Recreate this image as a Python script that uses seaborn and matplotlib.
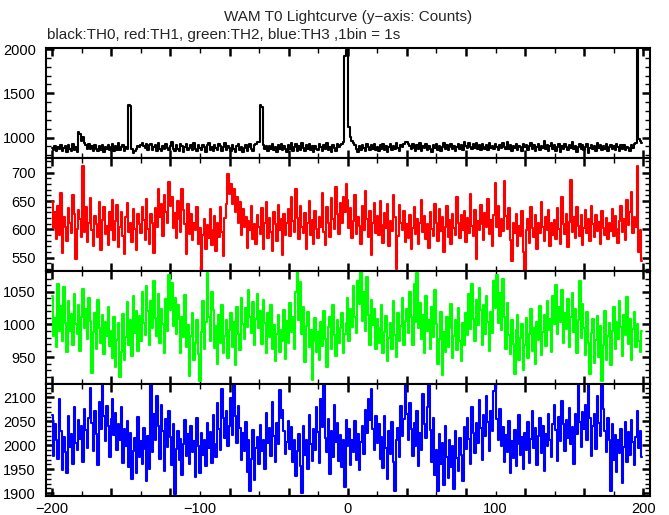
import numpy as np
import matplotlib
matplotlib.use("Agg")
import matplotlib.pyplot as plt
import seaborn as sns
from matplotlib.ticker import MultipleLocator, FuncFormatter

# counts per 1 s bin, t = -200 ... 199
th0 = [
    885, 862, 910, 851, 897, 866, 921, 845, 880, 903, 838, 912, 870, 853, 932, 861, 896, 842, 1062, 1045,
    958, 1002, 940, 915, 872, 928, 868, 909, 850, 921, 876, 848, 905, 862, 918, 840, 897, 869, 913, 855,
    892, 925, 848, 907, 860, 934, 856, 899, 921, 844, 894, 866, 1372, 1355, 870, 832, 851, 866, 905, 890,
    918, 940, 902, 878, 925, 865, 912, 931, 858, 893, 917, 851, 936, 874, 849, 910, 868, 928, 882, 856,
    901, 948, 866, 845, 920, 877, 852, 929, 903, 839, 890, 924, 855, 888, 915, 861, 938, 874, 847, 912,
    880, 858, 921, 893, 842, 916, 935, 864, 889, 848, 918, 884, 855, 927, 904, 846, 892, 939, 861, 905,
    887, 852, 917, 869, 840, 910, 931, 858, 898, 837, 880, 921, 853, 894, 926, 866, 845, 913, 930, 948,
    955, 1372, 1350, 918, 872, 911, 850, 906, 868, 929, 859, 897, 843, 915, 877, 924, 856, 902, 870, 841,
    914, 870, 937, 852, 896, 925, 845, 903, 863, 941, 884, 850, 917, 871, 932, 856, 900, 835, 911, 876,
    855, 927, 889, 846, 915, 872, 938, 860, 897, 840, 921, 880, 853, 930, 893, 912, 925, 950, 1920, 1985,
    2015, 1120, 1010, 962, 935, 912, 870, 842, 905, 861, 918, 880, 847, 924, 890, 855, 913, 872, 933, 858,
    899, 846, 920, 877, 931, 862, 904, 841, 893, 928, 857, 911, 874, 940, 883, 850, 917, 892, 928, 945,
    955, 932, 910, 872, 927, 886, 851, 915, 874, 936, 846, 903, 880, 925, 860, 911, 871, 843, 921, 884,
    932, 864, 906, 848, 893, 940, 875, 914, 857, 897, 926, 870, 908, 844, 889, 931, 873, 915, 859, 946,
    911, 880, 935, 897, 866, 925, 886, 944, 875, 913, 858, 932, 892, 869, 918, 855, 941, 884, 905, 867,
    926, 889, 860, 917, 880, 936, 895, 866, 950, 874, 914, 848, 907, 886, 933, 865, 910, 891, 852, 927,
    890, 918, 858, 905, 938, 872, 913, 846, 892, 929, 864, 908, 880, 958, 869, 917, 851, 900, 934, 872,
    913, 848, 893, 932, 835, 908, 870, 927, 889, 856, 919, 880, 955, 866, 907, 843, 891, 930, 874, 912,
    857, 899, 925, 830, 882, 916, 868, 906, 850, 935, 883, 918, 861, 902, 876, 931, 852, 894, 914, 870,
    905, 858, 927, 889, 848, 914, 875, 920, 856, 899, 884, 851, 917, 880, 928, 935, 2050, 990, 960, 935,
]

th1 = [
    648, 602, 631, 583, 642, 590, 665, 558, 622, 604, 579, 637, 611, 593, 660, 628, 547, 601, 635, 618,
    586, 712, 596, 640, 578, 612, 655, 599, 571, 624, 609, 587, 648, 563, 617, 639, 592, 606, 572, 630,
    598, 652, 581, 615, 643, 568, 604, 631, 589, 557, 622, 646, 595, 612, 578, 636, 601, 564, 628, 609,
    593, 640, 617, 582, 654, 600, 575, 627, 611, 559, 638, 604, 672, 621, 645, 588, 660, 630, 612, 684,
    641, 657, 603, 629, 585, 650, 618, 596, 671, 634, 610, 556, 645, 592, 627, 581, 612, 598, 640, 575,
    602, 527, 590, 618, 566, 608, 585, 636, 572, 599, 624, 561, 611, 587, 640, 596, 553, 620, 645, 698,
    662, 680, 645, 671, 631, 657, 612, 649, 590, 636, 605, 622, 567, 614, 598, 641, 583, 609, 575, 626,
    604, 591, 637, 566, 612, 648, 585, 620, 596, 562, 631, 609, 580, 643, 599, 618, 555, 627, 590, 611,
    636, 588, 657, 614, 596, 672, 620, 583, 641, 605, 593, 629, 566, 612, 650, 590, 617, 575, 633, 601,
    585, 622, 604, 664, 596, 573, 640, 611, 587, 655, 619, 600, 675, 628, 591, 646, 612, 658, 630, 680,
    652, 603, 637, 584, 615, 660, 592, 621, 606, 574, 641, 598, 667, 619, 586, 633, 555, 612, 647, 594,
    623, 590, 650, 608, 576, 629, 602, 645, 571, 614, 597, 660, 621, 530, 588, 643, 612, 599, 632, 578,
    609, 585, 626, 566, 603, 640, 592, 618, 574, 611, 651, 596, 624, 583, 609, 567, 630, 601, 588, 644,
    612, 580, 636, 597, 622, 560, 605, 641, 587, 616, 575, 628, 603, 590, 657, 611, 584, 625, 598, 633,
    577, 620, 594, 663, 606, 589, 634, 548, 615, 599, 643, 610, 582, 629, 604, 653, 591, 617, 571, 626,
    681, 605, 642, 588, 619, 597, 685, 623, 600, 637, 582, 545, 611, 594, 628, 570, 606, 589, 632, 560,
    527, 598, 619, 576, 640, 603, 587, 625, 566, 611, 594, 648, 605, 580, 621, 599, 634, 571, 612, 590,
    616, 583, 638, 601, 575, 657, 609, 592, 627, 568, 613, 688, 596, 621, 584, 640, 606, 589, 625, 572,
    602, 635, 594, 618, 580, 641, 609, 587, 626, 597, 613, 574, 632, 603, 590, 620, 583, 611, 597, 636,
    588, 624, 601, 576, 615, 642, 596, 619, 582, 652, 607, 630, 666, 594, 621, 604, 712, 560, 598, 545,
]

th2 = [
    1043, 982, 1010, 965, 1062, 990, 1028, 975, 1057, 1002, 958, 1035, 990, 1016, 968, 1047, 1001, 985, 1030, 960,
    1012, 1054, 995, 1023, 978, 1040, 1005, 926, 989, 1018, 962, 1037, 994, 971, 1015, 955, 1003, 982, 1026, 967,
    990, 948, 1011, 935, 976, 1002, 920, 958, 1016, 945, 981, 1034, 969, 1006, 952, 1043, 987, 1020, 960, 1013,
    975, 1049, 1002, 984, 1058, 1021, 968, 1035, 995, 1066, 1010, 983, 1047, 972, 1024, 1001, 956, 1039, 990, 1075,
    1022, 1063, 998, 1041, 985, 1030, 1008, 957, 1012, 981, 1045, 966, 999, 921, 983, 1018, 945, 972, 1007, 955,
    913, 988, 1036, 962, 1003, 1078, 1011, 975, 1050, 1022, 964, 998, 940, 1015, 971, 1029, 957, 983, 1006, 948,
    992, 1018, 966, 1004, 938, 1027, 985, 961, 1040, 1001, 978, 1025, 996, 1052, 1011, 987, 1034, 969, 1008, 1046,
    995, 1021, 970, 1038, 1002, 956, 1017, 981, 1030, 963, 999, 944, 986, 1014, 958, 992, 975, 1022, 947, 1005,
    971, 1033, 988, 1012, 962, 1050, 1081, 1007, 1064, 985, 1026, 943, 998, 1019, 966, 992, 915, 974, 1010, 958,
    989, 945, 1003, 967, 1021, 978, 935, 996, 1012, 962, 1030, 984, 951, 1007, 971, 994, 1018, 957, 985, 1002,
    1040, 975, 1023, 996, 1058, 1012, 987, 1066, 1031, 1080, 1005, 1049, 990, 1072, 1015, 968, 1037, 999, 1024, 962,
    1008, 971, 995, 1029, 956, 988, 1013, 944, 979, 1002, 963, 1036, 984, 950, 1018, 975, 998, 1041, 969, 1005,
    1023, 987, 1049, 1011, 968, 1062, 1003, 1078, 995, 1033, 978, 1015, 956, 1044, 990, 1006, 963, 1027, 981, 1052,
    1001, 940, 977, 1019, 922, 988, 958, 1012, 966, 995, 1031, 949, 983, 1007, 961, 1025, 975, 944, 1002, 968,
    1017, 984, 1046, 993, 1062, 1008, 975, 1038, 999, 1055, 1022, 968, 1030, 986, 1044, 1003, 960, 1019, 987, 1067,
    1025, 1075, 1002, 1048, 991, 1070, 1011, 962, 1033, 984, 955, 1006, 970, 924, 991, 1014, 945, 979, 1000, 930,
    968, 1010, 949, 986, 1023, 960, 995, 940, 1004, 976, 1028, 953, 989, 1015, 967, 1035, 992, 1009, 958, 1044,
    1001, 1060, 985, 1027, 1003, 1052, 971, 1018, 993, 1039, 965, 1011, 1048, 988, 1024, 957, 1006, 1066, 979, 1031,
    994, 954, 1019, 972, 925, 987, 1008, 941, 976, 1013, 950, 997, 913, 968, 1021, 946, 983, 1002, 938, 990,
    1027, 962, 1004, 978, 1036, 996, 951, 1015, 984, 1042, 970, 1008, 945, 993, 1019, 966, 1001, 975, 958, 990,
]

th3 = [
    2063, 1978, 2045, 2010, 1972, 2096, 2030, 1948, 2018, 1985, 1943, 2061, 1997, 2024, 1960, 2080, 2005, 1991, 2052, 2013,
    2041, 1966, 2076, 2032, 1995, 2058, 2119, 2047, 1987, 2071, 2024, 1958, 2090, 2035, 2128, 2062, 2008, 2083, 2040, 1976,
    2055, 2097, 2021, 2068, 1990, 2044, 2012, 2079, 1962, 2034, 1998, 2051, 1955, 2026, 1930, 1987, 2015, 1942, 2060, 1975,
    2008, 1960, 2037, 1993, 1926, 2019, 1951, 2128, 1985, 2066, 2010, 2102, 2040, 1972, 2085, 2029, 1947, 2054, 1996, 2071,
    2017, 1958, 2044, 1898, 1992, 2030, 1969, 2014, 1937, 2003, 2052, 1978, 2023, 1961, 2040, 1986, 2009, 1934, 2058, 1999,
    1942, 2026, 1980, 2011, 1956, 2047, 1995, 2028, 1963, 2064, 2002, 1975, 2089, 2033, 1990, 2118, 2056, 2015, 2072, 1998,
    2040, 2099, 2022, 2128, 2061, 2005, 2083, 2036, 1970, 2025, 1988, 2049, 1944, 2010, 1905, 1972, 2031, 1928, 1995, 2018,
    1960, 2043, 1987, 2012, 1950, 2068, 2004, 2037, 1977, 2091, 2020, 1966, 2047, 2002, 2115, 2058, 2074, 2029, 1981, 2006,
    2050, 1993, 2038, 1964, 2011, 1935, 1988, 2024, 1956, 1900, 2041, 1979, 2012, 1950, 2063, 2003, 1967, 2034, 1990, 2079,
    2028, 1962, 2097, 2039, 2128, 2016, 1985, 2055, 1940, 2030, 1975, 2084, 2007, 2046, 1968, 2021, 1954, 2010, 1912, 2052,
    1998, 2035, 1958, 2012, 1986, 2050, 1969, 2024, 1948, 2006, 2040, 1981, 2073, 2026, 2097, 2052, 2118, 2035, 1990, 2061,
    2004, 2044, 1972, 2018, 1953, 2062, 1995, 1930, 2029, 1981, 2048, 1966, 1905, 2011, 2037, 1975, 2083, 2020, 2055, 2128,
    2066, 2010, 2089, 2033, 1978, 2047, 1999, 2071, 1957, 2025, 1991, 2108, 2045, 2016, 2080, 2128, 2032, 1964, 2058, 1937,
    1990, 1904, 2023, 1960, 2005, 1918, 2041, 1976, 1932, 2012, 1954, 1998, 1908, 2030, 1973, 1946, 2015, 1980, 1926, 2038,
    1992, 2058, 2014, 1961, 2079, 2026, 1983, 2047, 2005, 2095, 2037, 1970, 2064, 2019, 2102, 2048, 1987, 2071, 2030, 2114,
    2128, 2055, 2011, 2076, 1998, 2039, 1966, 2022, 1985, 2050, 1943, 2008, 1973, 2031, 1956, 2002, 2064, 1979, 2017, 1951,
    2026, 1990, 2048, 1962, 2013, 2072, 1995, 2036, 1958, 2019, 2058, 1984, 2040, 1947, 2024, 1999, 2066, 2012, 1975, 2044,
    2085, 2031, 1968, 2060, 2008, 2092, 2045, 1987, 2053, 2016, 2077, 2002, 2039, 1961, 2065, 2024, 2128, 2049, 1996, 2070,
    2035, 2084, 2010, 2128, 2057, 1978, 2041, 2066, 1993, 2102, 2047, 2019, 2128, 2075, 2030, 1985, 2058, 2012, 1904, 2044,
    1970, 2021, 1945, 2010, 1983, 2035, 1922, 1996, 2048, 1964, 2027, 1980, 2053, 2006, 1958, 2017, 2072, 1994, 2030, 1975,
]

series = [th0, th1, th2, th3]
colors = ["#000000", "#ff0000", "#00ff00", "#0000ff"]
ylims = [(770, 2008), (527, 726), (909, 1082), (1894, 2128)]
ymajor = [500, 50, 50, 50]
yminor = [100, 10, 10, 10]

sns.set_style("ticks")
plt.rcParams["font.family"] = ["Liberation Sans", "DejaVu Sans"]

W, H = 669, 515
fig = plt.figure(figsize=(W / 100, H / 100), dpi=100)

# panel edges in pixels from top
edges = [48.3, 158, 270.7, 384, 496]
left, right = 45.5, 650

def lab(v, pos):
    return f"{int(round(v))}".replace("-", "\u2212") if abs(v) % 100 < 1e-6 else ""

for i, (vals, col) in enumerate(zip(series, colors)):
    top, bot = edges[i], edges[i + 1]
    ax = fig.add_axes([left / W, (H - bot) / H, (right - left) / W, (bot - top) / H])
    t = np.arange(len(vals)) - 200
    sns.lineplot(x=t, y=vals, ax=ax, color=col, lw=1.5, drawstyle="steps-mid",
                 errorbar=None, legend=False)
    ax.set_xlim(-204.5, 204.5)
    ax.set_ylim(*ylims[i])
    ax.set_xlabel("")
    ax.set_ylabel("")
    ax.xaxis.set_major_locator(MultipleLocator(40))
    ax.xaxis.set_minor_locator(MultipleLocator(20))
    ax.yaxis.set_major_locator(MultipleLocator(ymajor[i]))
    ax.yaxis.set_minor_locator(MultipleLocator(yminor[i]))
    ax.tick_params(which="both", direction="in", top=True, right=True, colors="black",
                   labelsize=10.5)
    ax.tick_params(which="major", length=6, width=1.8)
    ax.tick_params(which="minor", length=3.5, width=1.0)
    ax.tick_params(axis="y", which="both", pad=7)
    ax.tick_params(axis="x", which="both", pad=4)
    if i == 3:
        ax.xaxis.set_major_formatter(FuncFormatter(lab))
        ax.xaxis.set_minor_formatter(FuncFormatter(lab))
    else:
        ax.tick_params(axis="x", which="both", labelbottom=False)
    for s in ax.spines.values():
        s.set_linewidth(1.5)
        s.set_color("black")
    ax.set_facecolor("white")

fig.text((left + right) / 2 / W, 1 - 20.5 / H, "WAM T0 Lightcurve (y\u2212axis: Counts)",
         ha="center", va="baseline", fontsize=11)
fig.text(46.5 / W, 1 - 39 / H, "black:TH0, red:TH1, green:TH2, blue:TH3 ,1bin = 1s",
         ha="left", va="baseline", fontsize=11)

fig.savefig("out.png", dpi=100, facecolor="white")
